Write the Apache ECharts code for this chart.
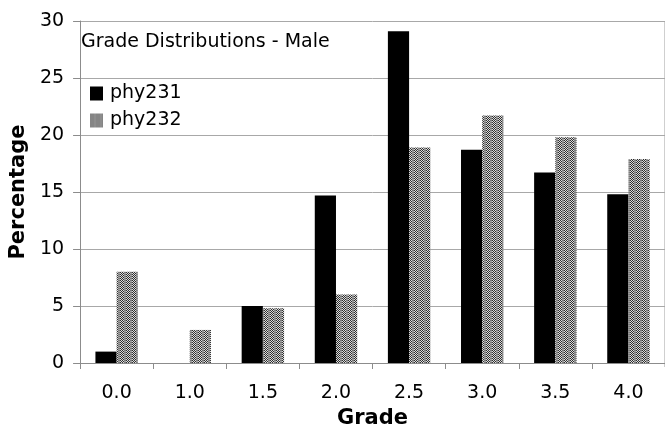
<!DOCTYPE html>
<html>
<head>
<meta charset="utf-8">
<script src="https://cdn.jsdelivr.net/npm/echarts@6/dist/echarts.min.js"></script>
<style>
  html, body { margin: 0; padding: 0; background: #fff; overflow: hidden; }
  #chart { width: 665px; height: 434px; }
</style>
</head>
<body>
<div id="chart"></div>
<script>
// Grade categories and percentage of male students per grade
const grades = ['0.0', '1.0', '1.5', '2.0', '2.5', '3.0', '3.5', '4.0'];
const phy231 = [1.0, 0, 5.0, 14.7, 29.1, 18.7, 16.7, 14.8];
const phy232 = [8.0, 2.9, 4.8, 6.0, 18.9, 21.7, 19.8, 17.9];
const yTicks = [0, 5, 10, 15, 20, 25, 30];

// Dithered grey fill for the second course
function ditherPattern() {
  const c = document.createElement('canvas');
  c.width = 6; c.height = 2;
  const ctx = c.getContext('2d');
  for (let x = 0; x < 6; x++) {
    for (let y = 0; y < 2; y++) {
      if (x >= 4) {
        ctx.fillStyle = (y === 0) ? '#7a7a7a' : '#a0a0a0';
      } else {
        ctx.fillStyle = ((x + y) % 2 === 0) ? '#2e2e2e' : '#dcdcdc';
      }
      ctx.fillRect(x, y, 1, 1);
    }
  }
  return { image: c, repeat: 'repeat' };
}

const font = 'DejaVu Sans';
const chart = echarts.init(document.getElementById('chart'));
chart.setOption({
  animation: false,
  backgroundColor: '#fff',
  title: {
    text: 'Grade Distributions - Male',
    left: 76, top: 28,
    textStyle: { fontFamily: font, fontSize: 19, fontWeight: 'normal', color: '#000' }
  },
  legend: {
    orient: 'vertical',
    left: 85, top: 79,
    itemWidth: 13, itemHeight: 14,
    itemGap: 8,
    icon: 'rect',
    textStyle: { fontFamily: font, fontSize: 19, color: '#000', padding: [0, 0, 0, 2] },
    data: ['phy231', 'phy232']
  },
  grid: { left: 75, right: -3, top: 21, bottom: 67, containLabel: false },
  // thin frame line at the right of the plot area
  graphic: [{
    type: 'line', silent: true,
    shape: { x1: 664.5, y1: 21, x2: 664.5, y2: 367 },
    style: { stroke: '#cfcfcf', lineWidth: 1 }
  }],
  xAxis: {
    type: 'category',
    data: grades,
    name: 'Grade',
    nameLocation: 'middle',
    nameGap: 45,
    nameTextStyle: { fontFamily: font, fontSize: 21, fontWeight: 'bold', color: '#000' },
    axisLine: { lineStyle: { color: '#8c8c8c', width: 1 } },
    axisTick: { show: true, length: 6, lineStyle: { color: '#8c8c8c' } },
    axisLabel: { fontFamily: font, fontSize: 19, color: '#000', margin: 21 }
  },
  yAxis: {
    type: 'value',
    min: yTicks[0], max: yTicks[yTicks.length - 1], interval: 5,
    name: 'Percentage',
    nameLocation: 'middle',
    nameGap: 42,
    nameRotate: 90,
    nameTextStyle: { fontFamily: font, fontSize: 21, fontWeight: 'bold', color: '#000' },
    axisLine: { show: true, lineStyle: { color: '#8c8c8c', width: 1 } },
    axisTick: { show: true, length: 7, lineStyle: { color: '#8c8c8c' } },
    axisLabel: { fontFamily: font, fontSize: 19, color: '#000', margin: 16 },
    splitLine: { lineStyle: { color: '#a8a8a8', width: 1 } }
  },
  series: [
    {
      name: 'phy231', type: 'bar', data: phy231,
      barGap: '0%', barCategoryGap: '42%',
      itemStyle: { color: '#000' }
    },
    {
      name: 'phy232', type: 'bar', data: phy232,
      barGap: '0%', barCategoryGap: '42%',
      itemStyle: { color: ditherPattern() }
    }
  ]
});
</script>
</body>
</html>
